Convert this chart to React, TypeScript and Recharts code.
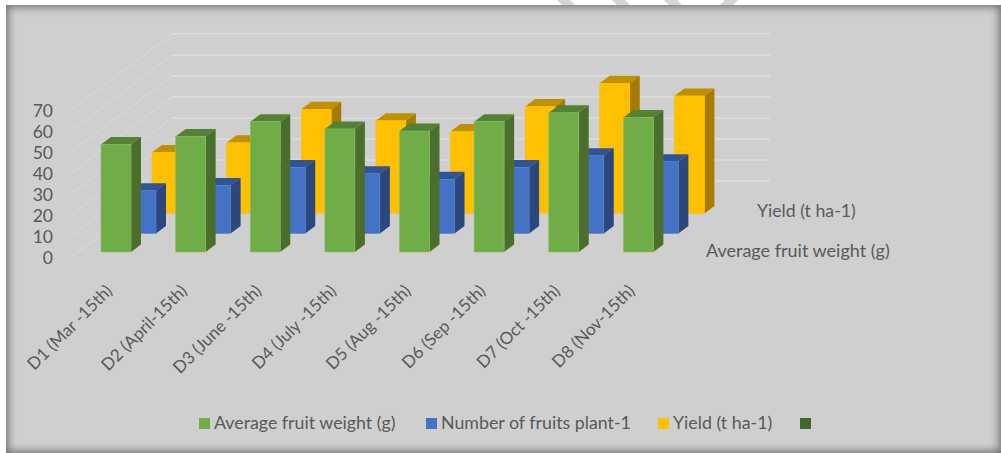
import { Bar, BarChart, CartesianGrid, XAxis, YAxis } from "recharts";

const categories = [
  "D1 (Mar -15th)",
  "D2 (April-15th)",
  "D3 (June -15th)",
  "D4 (July -15th)",
  "D5 (Aug -15th)",
  "D6 (Sep -15th)",
  "D7 (Oct -15th)",
  "D8 (Nov-15th)",
];
const fruitWeight = [51.2, 55, 62, 58.6, 57.6, 62, 66.3, 64];
const fruitCount = [20.4, 22.8, 31.4, 28.5, 25.8, 31.4, 37, 34.2];
const yieldValues = [29, 33.7, 49.6, 44.2, 39, 51, 62, 56];
const yTicks = [0, 10, 20, 30, 40, 50, 60, 70];

const legendNames = ["Average fruit weight (g)", "Number of fruits plant-1", "Yield (t ha-1)", ""];

const tableData = categories.map((name, i) => ({
  name,
  weight: fruitWeight[i],
  count: fruitCount[i],
  yieldT: yieldValues[i],
}));

const FONT = "Lato, sans-serif";
const TEXT = "#595959";
const DEPTH_X = 10;
const DEPTH_Y = 7.5;

// fake 3d box, moved back along the depth axis per series
const box3d = (dx: number, dy: number, front: string, top: string, side: string, edge: string) => (props: any) => {
  const x = props.x + dx;
  const y = props.y + dy;
  const { width: w, height: h } = props;
  return (
    <g>
      <polygon
        points={`${x},${y} ${x + DEPTH_X},${y - DEPTH_Y} ${x + w + DEPTH_X},${y - DEPTH_Y} ${x + w},${y}`}
        fill={top}
      />
      <polygon
        points={`${x + w},${y} ${x + w + DEPTH_X},${y - DEPTH_Y} ${x + w + DEPTH_X},${y + h - DEPTH_Y} ${x + w},${y + h}`}
        fill={side}
      />
      <rect x={x} y={y} width={w} height={h} fill={front} stroke={edge} strokeWidth={0.6} />
    </g>
  );
};

// side wall and back wall lines, from the y axis tick position
const wallLine = (props: any) => {
  const y = props.y1;
  return (
    <g key={`wall-${y}`}>
      <line x1={70} y1={y} x2={172} y2={y - 77} stroke="#dcdbdc" strokeWidth={1} />
      <line x1={172} y1={y - 77} x2={770} y2={y - 77} stroke="#dfdedf" strokeWidth={1.5} />
    </g>
  );
};

const slantedTick = (props: any) => {
  const { x, y, payload } = props;
  return (
    <text
      x={x - 3}
      y={y + 26}
      transform={`rotate(-45 ${x - 3} ${y + 26})`}
      textAnchor="end"
      fill={TEXT}
      fontFamily={FONT}
      fontSize={17}
    >
      {payload.value}
    </text>
  );
};

const legendSwatches = [
  { x: 199, color: "#70ad47" },
  { x: 426, color: "#4472c4" },
  { x: 658, color: "#ffc000" },
  { x: 800, color: "#43682b" },
];

const hatches = [
  { x: 560, skew: 45 },
  { x: 615, skew: 45 },
  { x: 667, skew: 45 },
  { x: 722, skew: -45 },
];

export default function App() {
  return (
    <div style={{ position: "fixed", left: 0, top: 0, width: 1001, height: 453, background: "#fff", overflow: "hidden" }}>
      {hatches.map((h) => (
        <div
          key={h.x}
          style={{
            position: "absolute",
            left: h.x,
            top: 0,
            width: 13,
            height: 6,
            background: "#d4d4d4",
            transform: `skewX(${h.skew}deg)`,
          }}
        />
      ))}
      <div
        style={{
          position: "absolute",
          left: 6,
          top: 5,
          width: 995,
          height: 448,
          background: "#d0cfd0",
          boxShadow: "inset 0 0 9px 2px #6f6f6f",
        }}
      />
      <div style={{ position: "absolute", left: 0, top: 0 }}>
        <BarChart
          width={1001}
          height={453}
          data={tableData}
          margin={{ top: 111, right: 325, bottom: 0, left: 0 }}
          barSize={30}
          barGap={-30}
        >
          <CartesianGrid horizontal={wallLine} vertical={false} />
          <XAxis
            dataKey="name"
            interval={0}
            height={195}
            axisLine={false}
            tickLine={false}
            tick={slantedTick}
          />
          <YAxis
            width={79}
            domain={[0, 70]}
            ticks={yTicks}
            interval={0}
            axisLine={false}
            tickLine={false}
            tickSize={0}
            tickMargin={26}
            tick={{ fill: TEXT, fontFamily: FONT, fontSize: 17.5 }}
          />
          <Bar dataKey="yieldT" isAnimationActive={false} shape={box3d(51, -44.5, "#ffc000", "#bf9000", "#a67c00", "#ffc000")} />
          <Bar dataKey="count" isAnimationActive={false} shape={box3d(25, -24.5, "#4472c4", "#2f5597", "#2a4780", "#5b84cc")} />
          <Bar dataKey="weight" isAnimationActive={false} shape={box3d(0, -6, "#70ad47", "#548235", "#4a6f2d", "#8cbd6c")} />
          <text x={757} y={217} fill={TEXT} fontFamily={FONT} fontSize={17.7}>
            {legendNames[2]}
          </text>
          <text x={706} y={257} fill={TEXT} fontFamily={FONT} fontSize={18}>
            {legendNames[0]}
          </text>
          {legendSwatches.map((s, i) => (
            <g key={s.x}>
              <rect x={s.x} y={418} width={11} height={11} fill={s.color} />
              <text x={s.x + 15} y={429} fill={TEXT} fontFamily={FONT} fontSize={17.8}>
                {legendNames[i]}
              </text>
            </g>
          ))}
        </BarChart>
      </div>
    </div>
  );
}
